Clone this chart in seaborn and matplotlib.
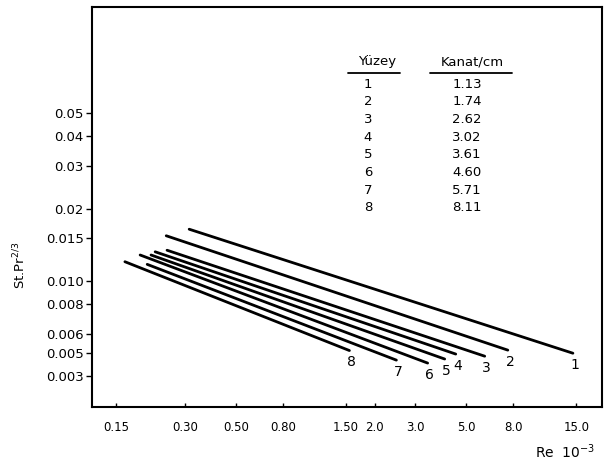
import numpy as np
import pandas as pd
import matplotlib
matplotlib.use("Agg")
import matplotlib.pyplot as plt
import seaborn as sns

# ---- data ----
surfaces = ["1", "2", "3", "4", "5", "6", "7", "8"]
fins_per_cm = ["1.13", "1.74", "2.62", "3.02", "3.61", "4.60", "5.71", "8.11"]
re_start = [0.312, 0.248, 0.250, 0.222, 0.213, 0.191, 0.205, 0.164]
re_end = [14.5, 7.56, 6.00, 4.49, 4.02, 3.39, 2.48, 1.55]
st_start = [0.0164, 0.0154, 0.0134, 0.0132, 0.0128, 0.0128, 0.0117, 0.0120]
st_end = [0.00498, 0.00513, 0.00484, 0.00494, 0.00471, 0.00453, 0.00466, 0.00511]

x_ticks = [0.15, 0.30, 0.50, 0.80, 1.50, 2.0, 3.0, 5.0, 8.0, 15.0]
x_ticklabels = ["0.15", "0.30", "0.50", "0.80", "1.50", "2.0", "3.0", "5.0", "8.0", "15.0"]
y_ticks = [0.05, 0.04, 0.03, 0.02, 0.015, 0.010, 0.008, 0.006, 0.005, 0.004]
y_ticklabels = ["0.05", "0.04", "0.03", "0.02", "0.015", "0.010", "0.008", "0.006", "0.005", "0.003"]

rows = []
for s, x0, x1, y0, y1 in zip(surfaces, re_start, re_end, st_start, st_end):
    rows.append({"Re": x0, "St": y0, "surface": s})
    rows.append({"Re": x1, "St": y1, "surface": s})
df = pd.DataFrame(rows)

sns.set_theme(style="white")
plt.rcParams["font.family"] = ["DejaVu Sans"]
plt.rcParams["text.color"] = "black"
plt.rcParams["axes.labelcolor"] = "black"
plt.rcParams["xtick.color"] = "black"
plt.rcParams["ytick.color"] = "black"

fig = plt.figure(figsize=(6.10, 4.65), dpi=100)
ax = fig.add_axes([92 / 610, 1 - 407 / 465, 510 / 610, 400 / 465])

sns.lineplot(data=df, x="Re", y="St", hue="surface", palette=["black"] * 8,
             estimator=None, sort=False, legend=False, linewidth=2.0, ax=ax)

ax.set_xscale("log")
ax.set_yscale("log")
ax.set_xlim(0.118, 19.4)
ax.set_ylim(0.00297, 0.1388)

ax.xaxis.set_major_locator(matplotlib.ticker.FixedLocator(x_ticks))
ax.xaxis.set_major_formatter(matplotlib.ticker.FixedFormatter(x_ticklabels))
ax.xaxis.set_minor_locator(matplotlib.ticker.NullLocator())
ax.yaxis.set_major_locator(matplotlib.ticker.FixedLocator(y_ticks))
ax.yaxis.set_major_formatter(matplotlib.ticker.FixedFormatter(y_ticklabels))
ax.yaxis.set_minor_locator(matplotlib.ticker.NullLocator())

ax.tick_params(axis="x", direction="in", length=3, width=1, colors="black",
               labelsize=8.5, pad=10, bottom=True)
ax.tick_params(axis="y", direction="out", length=4, width=1, colors="black",
               labelsize=9.5, pad=2, left=True)
for sp in ax.spines.values():
    sp.set_color("black")
    sp.set_linewidth(1.5)

ax.set_xlabel("")
ax.set_ylabel("")

# curve numbers at line ends
for s, x1, y1 in zip(surfaces, re_end, st_end):
    ax.annotate(s, (x1, y1), xytext=(1.5, -8.5), textcoords="offset points",
                ha="center", va="center", fontsize=10, color="black")

# table
def axfrac(px, py):
    return (px - 92) / 510, (407 - py) / 400

hx, hy = axfrac(377, 62)
ax.text(hx, hy, "Yüzey", transform=ax.transAxes, ha="center", va="center",
        fontsize=9.5, color="black")
kx, ky = axfrac(472, 62)
ax.text(kx, ky, "Kanat/cm", transform=ax.transAxes, ha="center", va="center",
        fontsize=9.5, color="black")
for (xa, xb) in [(348, 400), (430, 512)]:
    a0, yy = axfrac(xa, 73)
    a1, _ = axfrac(xb, 73)
    ax.plot([a0, a1], [yy, yy], transform=ax.transAxes, color="black", lw=1.3)
for i, (s, f) in enumerate(zip(surfaces, fins_per_cm)):
    py = 84 + i * 17.7
    sx, sy = axfrac(368, py)
    ax.text(sx, sy, s, transform=ax.transAxes, ha="center", va="center",
            fontsize=9.5, color="black")
    fx, fy = axfrac(467, py)
    ax.text(fx, fy, f, transform=ax.transAxes, ha="center", va="center",
            fontsize=9.5, color="black")

fig.text(20 / 610, 1 - 265 / 465, "St.Pr$^{2/3}$", rotation=90, ha="center",
         va="center", fontsize=9.5, color="black")
fig.text(565 / 610, 1 - 452 / 465, "Re  10$^{-3}$", ha="center", va="center",
         fontsize=10, color="black")

fig.savefig("out.png", dpi=100)
